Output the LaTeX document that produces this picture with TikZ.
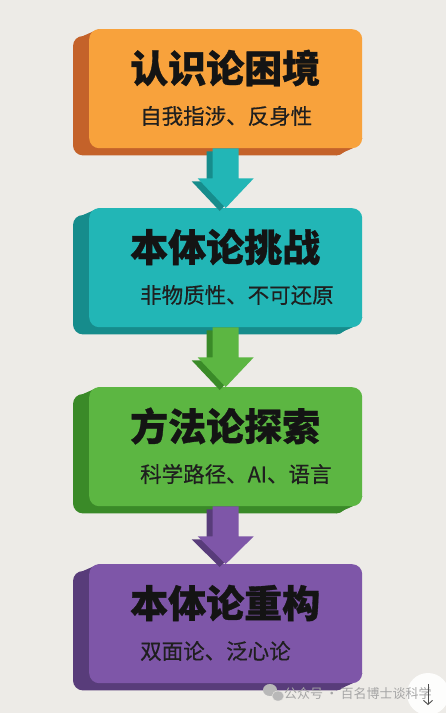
\documentclass[tikz,border=0pt]{standalone}
\usepackage{fontspec}
\setmainfont{Noto Sans CJK SC}
\usepackage{xcolor}
\usepackage{tikz}
\usetikzlibrary{arrows.meta, positioning, calc, backgrounds}

\definecolor{pagebg}{HTML}{EDEBE7}
\definecolor{orangeF}{HTML}{F8A23C}
\definecolor{orangeD}{HTML}{C4622A}
\definecolor{tealF}{HTML}{22B6B6}
\definecolor{tealD}{HTML}{168C8C}
\definecolor{greenF}{HTML}{5CB642}
\definecolor{greenD}{HTML}{3A8A28}
\definecolor{purpleF}{HTML}{7E56A8}
\definecolor{purpleD}{HTML}{583C7A}

\tikzset{
  stage/.style={rounded corners=10pt, minimum width=273pt, minimum height=119pt, inner sep=0pt, fill=#1},
  stagetitle/.style={font=\bfseries\fontsize{38pt}{40pt}\selectfont\addfontfeatures{FakeBold=0.9}, text=black!92, anchor=west, inner sep=0pt},
  stagesub/.style={font=\fontsize{21.5pt}{24pt}\selectfont\addfontfeatures{FakeBold=0.5}, text=black!88, anchor=west, inner sep=0pt},
}

\begin{document}
\begin{tikzpicture}[x=1pt, y=-1pt]
    \begin{scope}[on background layer]
      \fill[pagebg] (0,0) rectangle (446,713);
    \end{scope}
    \useasboundingbox (0,0) rectangle (446,713);

    % Stages: front face, extruded side behind it
    \foreach \i/\top/\front/\back/\head/\sub in {
        1/29/orangeF/orangeD/认识论困境/自我指涉、反身性,
        2/208/tealF/tealD/本体论挑战/非物质性、不可还原,
        3/387/greenF/greenD/方法论探索/科学路径、AI、语言,
        4/564/purpleF/purpleD/本体论重构/双面论、泛心论} {
      \node[stage=\front, anchor=north west] (b\i) at (89,\top) {};
      \begin{scope}[on background layer]
        \fill[\back, rounded corners=10pt] ($(b\i.north west)+(-16,7)$) rectangle ($(b\i.south east)+(-16,7)$);
        \fill[\back] ($(b\i.north west)+(0,10)$) -- ($(b\i.north west)+(10,0)$) -- ($(b\i.north west)+(-6,7)$) -- ($(b\i.north west)+(-16,17)$) -- cycle;
        \fill[\back] ($(b\i.south east)+(0,-10)$) -- ($(b\i.south east)+(-10,0)$) -- ($(b\i.south east)+(-26,7)$) -- ($(b\i.south east)+(-16,-3)$) -- cycle;
      \end{scope}
      \node[stagetitle] (t\i) at ($(b\i.north west)+(41,39)$) {\head};
      \node[stagesub] (s\i) at ($(b\i.north west)+(51,87)$) {\sub};
    }

    % Block arrows between stages (dark copy first)
    \foreach \i/\j/\front/\back in {1/2/tealF/tealD, 2/3/greenF/greenD, 3/4/purpleF/purpleD} {
      \foreach \dx/\dy/\col in {-6/3/\back, 0/0/\front} {
        \fill[\col] ($(b\i.south)+(\dx,\dy)+(-13,0)$) -- ($(b\i.south)+(\dx,\dy)+(13,0)$)
          -- ($(b\i.south)+(\dx,\dy)+(13,30)$) -- ($(b\i.south)+(\dx,\dy)+(28,30)$)
          -- ($(b\j.north)+(\dx,\dy)$)
          -- ($(b\i.south)+(\dx,\dy)+(-28,30)$) -- ($(b\i.south)+(\dx,\dy)+(-13,30)$) -- cycle;
      }
    }

    % Watermark
    \fill[black!28] (270,690) ellipse (7 and 6);
    \filldraw[black!28, draw=pagebg] (278,696) ellipse (6 and 5);
    \fill[white, opacity=0.9] (428,694) circle (21);
    \node[font=\fontsize{13pt}{15pt}\selectfont, text=black!35, anchor=west, inner sep=0pt] (wm) at (284,693) {公众号\,·\,百名博士谈科学};
    \draw[black!70, line width=0.9pt, -{Straight Barb[length=4pt, width=9pt]}] (428,684) -- (428,705);
\end{tikzpicture}
\end{document}
